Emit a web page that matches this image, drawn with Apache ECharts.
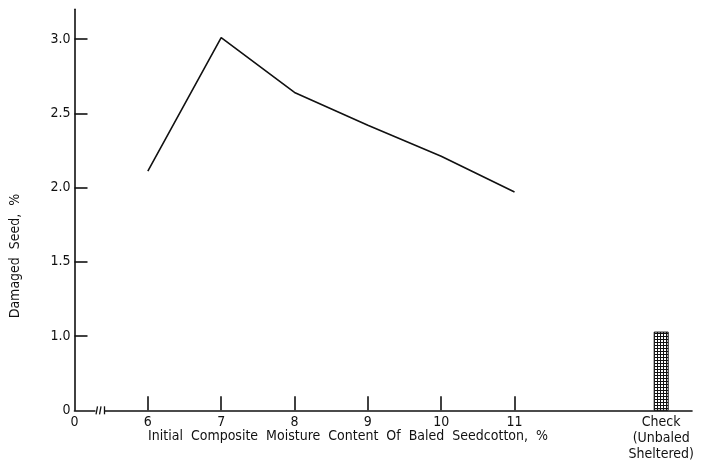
<!DOCTYPE html>
<html>
<head>
<meta charset="utf-8">
<script src="https://cdn.jsdelivr.net/npm/echarts@6/dist/echarts.min.js"></script>
<style>
html,body{margin:0;padding:0;background:#fff;}
#chart{width:714px;height:463px;}
</style>
</head>
<body>
<div id="chart"></div>
<script>
// ---- data ----
const moisture = [6, 7, 8, 9, 10, 11];
const damaged = [2.11, 3.01, 2.64, 2.42, 2.21, 1.97];
const checkPosition = [13];
const checkValue = [1.03];
const xTickValues = [5, 6, 7, 8, 9, 10, 11, 13];
const xTickLabels = ['0', '6', '7', '8', '9', '10', '11', 'Check\n(Unbaled\nSheltered)'];
const xMarkTicks = [6, 7, 8, 9, 10, 11];
const yTickValues = [0.5, 1.0, 1.5, 2.0, 2.5, 3.0];
const yTickLabels = ['0', '1.0', '1.5', '2.0', '2.5', '3.0'];
const yMarkTicks = [1.0, 1.5, 2.0, 2.5, 3.0];
const xTitle = 'Initial  Composite  Moisture  Content  Of  Baled  Seedcotton,  %';
const yTitle = 'Damaged  Seed,  %';

const FONT = '"DejaVu Sans Condensed", "Liberation Sans Narrow", sans-serif';
const INK = '#111111';

// cross-hatch pattern for the check bar
const pc = document.createElement('canvas');
pc.width = 3; pc.height = 3;
const pctx = pc.getContext('2d');
pctx.fillStyle = '#ffffff'; pctx.fillRect(0, 0, 3, 3);
pctx.fillStyle = '#111111';
pctx.fillRect(0, 0, 3, 1);
pctx.fillRect(0, 0, 1, 3);

const chart = echarts.init(document.getElementById('chart'), null, {renderer: 'canvas'});

const option = {
  backgroundColor: '#ffffff',
  animation: false,
  grid: {left: 74.5, right: 22, top: 9.3, bottom: 52.7, containLabel: false},
  xAxis: {
    type: 'value',
    min: 5,
    max: 13.42,
    splitLine: {show: false},
    axisLine: {show: true, onZero: false, lineStyle: {color: INK, width: 1.6}},
    axisTick: {show: true, inside: true, length: 14, customValues: xMarkTicks, lineStyle: {color: INK, width: 1.6}},
    axisLabel: {
      show: true,
      customValues: xTickValues,
      margin: 4,
      color: INK,
      fontFamily: FONT,
      fontSize: 14,
      lineHeight: 16,
      formatter: function (v) {
        const i = xTickValues.findIndex(t => Math.abs(t - v) < 1e-6);
        return i >= 0 ? xTickLabels[i] : '';
      }
    }
  },
  yAxis: {
    type: 'value',
    min: 0.5,
    max: 3.2,
    splitLine: {show: false},
    axisLine: {show: true, onZero: false, lineStyle: {color: INK, width: 1.6}},
    axisTick: {show: true, inside: true, length: 13, customValues: yMarkTicks, lineStyle: {color: INK, width: 1.6}},
    axisLabel: {
      show: true,
      customValues: yTickValues,
      margin: 4,
      color: INK,
      fontFamily: FONT,
      fontSize: 14,
      formatter: function (v) {
        const i = yTickValues.findIndex(t => Math.abs(t - v) < 1e-6);
        return i >= 0 ? yTickLabels[i] : '';
      }
    }
  },
  series: [
    {
      type: 'line',
      data: moisture.map((m, i) => [m, damaged[i]]),
      symbol: 'none',
      lineStyle: {color: INK, width: 1.6},
      z: 3
    },
    {
      type: 'bar',
      data: checkPosition.map((p, i) => [p, checkValue[i]]),
      barWidth: 15,
      clip: true,
      itemStyle: {
        color: {image: pc, repeat: 'repeat'},
        borderColor: '#111111',
        borderWidth: 1
      },
      z: 2
    }
  ]
};
chart.setOption(option);

// axis-break mark on the x axis (decoration), positioned through the axis scale
const p0 = chart.convertToPixel({xAxisIndex: 0, yAxisIndex: 0}, [5.3, 0.5]);
const bx = p0[0], by = p0[1];
chart.setOption({
  graphic: [
    {type: 'rect', shape: {x: bx - 1, y: by - 3, width: 9, height: 6}, style: {fill: '#ffffff'}, z: 100},
    {type: 'line', shape: {x1: bx - 0.5, y1: by + 4, x2: bx + 1, y2: by - 4}, style: {stroke: INK, lineWidth: 1.3}, z: 101},
    {type: 'line', shape: {x1: bx + 3, y1: by + 4, x2: bx + 4.5, y2: by - 4}, style: {stroke: INK, lineWidth: 1.3}, z: 101},
    {type: 'line', shape: {x1: bx + 8, y1: by - 4, x2: bx + 8, y2: by + 4}, style: {stroke: INK, lineWidth: 1.3}, z: 101},
    {type: 'text', x: 348, y: 436, style: {text: xTitle, fill: INK, font: '14px ' + FONT, textAlign: 'center', textVerticalAlign: 'middle'}, z: 50},
    {type: 'text', x: 15, y: 256, rotation: Math.PI / 2, style: {text: yTitle, fill: INK, font: '14px ' + FONT, textAlign: 'center', textVerticalAlign: 'middle'}, z: 50}
  ]
});
</script>
</body>
</html>
